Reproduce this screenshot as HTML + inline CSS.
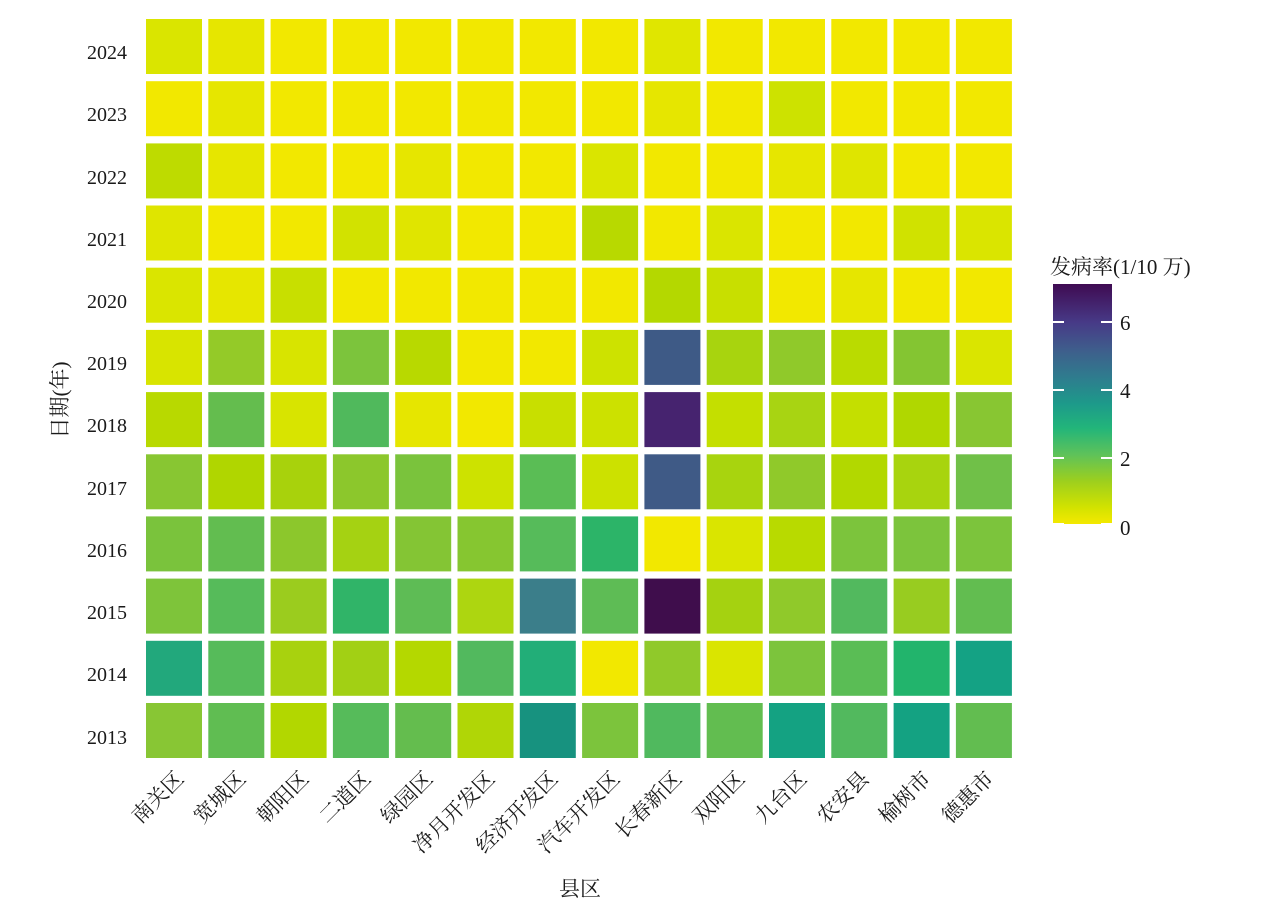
<!DOCTYPE html>
<html><head><meta charset="utf-8"><style>
html,body{margin:0;padding:0;background:#fff;}
svg{display:block;}
text{font-family:"Liberation Serif","Noto Serif CJK SC",serif;fill:#1a1a1a;}
</style></head><body>
<svg width="1269" height="909" viewBox="0 0 1269 909" xmlns="http://www.w3.org/2000/svg">
<defs>
<linearGradient id="vir" x1="0" y1="1" x2="0" y2="0">
<stop offset="0" stop-color="#f4e900"/>
<stop offset="0.07" stop-color="#d2e200"/>
<stop offset="0.18" stop-color="#9ccf1e"/>
<stop offset="0.29" stop-color="#5ec25a"/>
<stop offset="0.4" stop-color="#22b57a"/>
<stop offset="0.5" stop-color="#1d9a8a"/>
<stop offset="0.6" stop-color="#2d7f8e"/>
<stop offset="0.72" stop-color="#3e5f8c"/>
<stop offset="0.84" stop-color="#473a87"/>
<stop offset="1" stop-color="#3f0b52"/>
</linearGradient>
</defs>
<g font-size="20" text-anchor="end">
<text x="127" y="59">2024</text>
<text x="127" y="121">2023</text>
<text x="127" y="184">2022</text>
<text x="127" y="246">2021</text>
<text x="127" y="308">2020</text>
<text x="127" y="370">2019</text>
<text x="127" y="432">2018</text>
<text x="127" y="495">2017</text>
<text x="127" y="557">2016</text>
<text x="127" y="619">2015</text>
<text x="127" y="681">2014</text>
<text x="127" y="744">2013</text>
</g>
<text x="0" y="0" font-size="21" text-anchor="middle" transform="translate(67,400) rotate(-90)">日期(年)</text>
<text x="580" y="896" font-size="21" text-anchor="middle">县区</text>
<g font-size="21" text-anchor="end">
<text transform="translate(185,780) rotate(-45)">南关区</text>
<text transform="translate(247,780) rotate(-45)">宽城区</text>
<text transform="translate(310,780) rotate(-45)">朝阳区</text>
<text transform="translate(372,780) rotate(-45)">二道区</text>
<text transform="translate(434,780) rotate(-45)">绿园区</text>
<text transform="translate(496,780) rotate(-45)">净月开发区</text>
<text transform="translate(559,780) rotate(-45)">经济开发区</text>
<text transform="translate(621,780) rotate(-45)">汽车开发区</text>
<text transform="translate(683,780) rotate(-45)">长春新区</text>
<text transform="translate(746,780) rotate(-45)">双阳区</text>
<text transform="translate(808,780) rotate(-45)">九台区</text>
<text transform="translate(870,780) rotate(-45)">农安县</text>
<text transform="translate(932,780) rotate(-45)">榆树市</text>
<text transform="translate(995,780) rotate(-45)">德惠市</text>
</g>
<text x="1050" y="274" font-size="21">发病率(1/10 万)</text>
<rect x="1053" y="284" width="59" height="240" fill="url(#vir)"/>
<g stroke="#fff" stroke-width="2">
<line x1="1053" y1="322" x2="1064" y2="322"/><line x1="1101" y1="322" x2="1112" y2="322"/>
<line x1="1053" y1="390" x2="1064" y2="390"/><line x1="1101" y1="390" x2="1112" y2="390"/>
<line x1="1053" y1="458" x2="1064" y2="458"/><line x1="1101" y1="458" x2="1112" y2="458"/>
<line x1="1053" y1="524" x2="1064" y2="524"/><line x1="1101" y1="524" x2="1112" y2="524"/>
</g>
<g font-size="21">
<text x="1120" y="330">6</text>
<text x="1120" y="398">4</text>
<text x="1120" y="466">2</text>
<text x="1120" y="535">0</text>
</g>
<g>
<g transform="translate(0,19)">
<rect x="146" width="56" height="55" fill="#dae500"/><rect x="208.3" width="56" height="55" fill="#e6e600"/><rect x="270.6" width="56" height="55" fill="#f2e800"/><rect x="332.9" width="56" height="55" fill="#f2e800"/><rect x="395.2" width="56" height="55" fill="#f2e800"/><rect x="457.5" width="56" height="55" fill="#f2e800"/><rect x="519.8" width="56" height="55" fill="#f2e800"/><rect x="582.1" width="56" height="55" fill="#f2e800"/><rect x="644.4" width="56" height="55" fill="#e0e600"/><rect x="706.7" width="56" height="55" fill="#f2e800"/><rect x="769" width="56" height="55" fill="#f2e800"/><rect x="831.3" width="56" height="55" fill="#f2e800"/><rect x="893.6" width="56" height="55" fill="#f2e800"/><rect x="955.9" width="56" height="55" fill="#f2e800"/>
</g>
<g transform="translate(0,81.2)">
<rect x="146" width="56" height="55" fill="#f2e800"/><rect x="208.3" width="56" height="55" fill="#e6e600"/><rect x="270.6" width="56" height="55" fill="#f2e800"/><rect x="332.9" width="56" height="55" fill="#f2e800"/><rect x="395.2" width="56" height="55" fill="#f2e800"/><rect x="457.5" width="56" height="55" fill="#f2e800"/><rect x="519.8" width="56" height="55" fill="#f2e800"/><rect x="582.1" width="56" height="55" fill="#f2e800"/><rect x="644.4" width="56" height="55" fill="#e6e600"/><rect x="706.7" width="56" height="55" fill="#f2e800"/><rect x="769" width="56" height="55" fill="#cde200"/><rect x="831.3" width="56" height="55" fill="#f2e800"/><rect x="893.6" width="56" height="55" fill="#f2e800"/><rect x="955.9" width="56" height="55" fill="#f2e800"/>
</g>
<g transform="translate(0,143.4)">
<rect x="146" width="56" height="55" fill="#bedb00"/><rect x="208.3" width="56" height="55" fill="#e6e600"/><rect x="270.6" width="56" height="55" fill="#f2e800"/><rect x="332.9" width="56" height="55" fill="#f2e800"/><rect x="395.2" width="56" height="55" fill="#e6e600"/><rect x="457.5" width="56" height="55" fill="#f2e800"/><rect x="519.8" width="56" height="55" fill="#f2e800"/><rect x="582.1" width="56" height="55" fill="#dae500"/><rect x="644.4" width="56" height="55" fill="#f2e800"/><rect x="706.7" width="56" height="55" fill="#f2e800"/><rect x="769" width="56" height="55" fill="#e6e600"/><rect x="831.3" width="56" height="55" fill="#dfe500"/><rect x="893.6" width="56" height="55" fill="#f2e800"/><rect x="955.9" width="56" height="55" fill="#f2e800"/>
</g>
<g transform="translate(0,205.5)">
<rect x="146" width="56" height="55" fill="#dfe500"/><rect x="208.3" width="56" height="55" fill="#f2e800"/><rect x="270.6" width="56" height="55" fill="#f2e800"/><rect x="332.9" width="56" height="55" fill="#d2e200"/><rect x="395.2" width="56" height="55" fill="#e0e500"/><rect x="457.5" width="56" height="55" fill="#f2e800"/><rect x="519.8" width="56" height="55" fill="#f2e800"/><rect x="582.1" width="56" height="55" fill="#b8d900"/><rect x="644.4" width="56" height="55" fill="#f2e800"/><rect x="706.7" width="56" height="55" fill="#dae500"/><rect x="769" width="56" height="55" fill="#f2e800"/><rect x="831.3" width="56" height="55" fill="#f2e800"/><rect x="893.6" width="56" height="55" fill="#d0e200"/><rect x="955.9" width="56" height="55" fill="#dae500"/>
</g>
<g transform="translate(0,267.7)">
<rect x="146" width="56" height="55" fill="#dae500"/><rect x="208.3" width="56" height="55" fill="#e6e600"/><rect x="270.6" width="56" height="55" fill="#c8df00"/><rect x="332.9" width="56" height="55" fill="#f2e800"/><rect x="395.2" width="56" height="55" fill="#f2e800"/><rect x="457.5" width="56" height="55" fill="#f2e800"/><rect x="519.8" width="56" height="55" fill="#f2e800"/><rect x="582.1" width="56" height="55" fill="#f2e800"/><rect x="644.4" width="56" height="55" fill="#b4d800"/><rect x="706.7" width="56" height="55" fill="#c8df00"/><rect x="769" width="56" height="55" fill="#f2e800"/><rect x="831.3" width="56" height="55" fill="#e6e600"/><rect x="893.6" width="56" height="55" fill="#f2e800"/><rect x="955.9" width="56" height="55" fill="#f2e800"/>
</g>
<g transform="translate(0,329.9)">
<rect x="146" width="56" height="55" fill="#d8e400"/><rect x="208.3" width="56" height="55" fill="#94ca28"/><rect x="270.6" width="56" height="55" fill="#d8e400"/><rect x="332.9" width="56" height="55" fill="#7cc43c"/><rect x="395.2" width="56" height="55" fill="#b8d900"/><rect x="457.5" width="56" height="55" fill="#f2e800"/><rect x="519.8" width="56" height="55" fill="#f2e800"/><rect x="582.1" width="56" height="55" fill="#cde200"/><rect x="644.4" width="56" height="55" fill="#3e5a86"/><rect x="706.7" width="56" height="55" fill="#a8d40e"/><rect x="769" width="56" height="55" fill="#90c92a"/><rect x="831.3" width="56" height="55" fill="#badb00"/><rect x="893.6" width="56" height="55" fill="#84c532"/><rect x="955.9" width="56" height="55" fill="#dae500"/>
</g>
<g transform="translate(0,392.1)">
<rect x="146" width="56" height="55" fill="#b8d900"/><rect x="208.3" width="56" height="55" fill="#64bd4e"/><rect x="270.6" width="56" height="55" fill="#d8e400"/><rect x="332.9" width="56" height="55" fill="#50b95c"/><rect x="395.2" width="56" height="55" fill="#e6e600"/><rect x="457.5" width="56" height="55" fill="#f2e800"/><rect x="519.8" width="56" height="55" fill="#c8df00"/><rect x="582.1" width="56" height="55" fill="#cce100"/><rect x="644.4" width="56" height="55" fill="#46236f"/><rect x="706.7" width="56" height="55" fill="#c4df00"/><rect x="769" width="56" height="55" fill="#a8d412"/><rect x="831.3" width="56" height="55" fill="#c4df00"/><rect x="893.6" width="56" height="55" fill="#b0d700"/><rect x="955.9" width="56" height="55" fill="#88c632"/>
</g>
<g transform="translate(0,454.3)">
<rect x="146" width="56" height="55" fill="#88c632"/><rect x="208.3" width="56" height="55" fill="#b0d600"/><rect x="270.6" width="56" height="55" fill="#a8d20c"/><rect x="332.9" width="56" height="55" fill="#8cc72c"/><rect x="395.2" width="56" height="55" fill="#7ac33c"/><rect x="457.5" width="56" height="55" fill="#cde200"/><rect x="519.8" width="56" height="55" fill="#5abd55"/><rect x="582.1" width="56" height="55" fill="#cce100"/><rect x="644.4" width="56" height="55" fill="#3f5a86"/><rect x="706.7" width="56" height="55" fill="#a8d40e"/><rect x="769" width="56" height="55" fill="#90c92a"/><rect x="831.3" width="56" height="55" fill="#b2d800"/><rect x="893.6" width="56" height="55" fill="#a8d40e"/><rect x="955.9" width="56" height="55" fill="#70c048"/>
</g>
<g transform="translate(0,516.4)">
<rect x="146" width="56" height="55" fill="#7ac33c"/><rect x="208.3" width="56" height="55" fill="#62bd50"/><rect x="270.6" width="56" height="55" fill="#8cc72c"/><rect x="332.9" width="56" height="55" fill="#a5d212"/><rect x="395.2" width="56" height="55" fill="#84c534"/><rect x="457.5" width="56" height="55" fill="#86c630"/><rect x="519.8" width="56" height="55" fill="#56bb5a"/><rect x="582.1" width="56" height="55" fill="#2cb468"/><rect x="644.4" width="56" height="55" fill="#f2e800"/><rect x="706.7" width="56" height="55" fill="#dae500"/><rect x="769" width="56" height="55" fill="#b8da00"/><rect x="831.3" width="56" height="55" fill="#7cc43c"/><rect x="893.6" width="56" height="55" fill="#7cc43c"/><rect x="955.9" width="56" height="55" fill="#7cc43c"/>
</g>
<g transform="translate(0,578.6)">
<rect x="146" width="56" height="55" fill="#7ec43a"/><rect x="208.3" width="56" height="55" fill="#56bb5a"/><rect x="270.6" width="56" height="55" fill="#9bcc1e"/><rect x="332.9" width="56" height="55" fill="#30b468"/><rect x="395.2" width="56" height="55" fill="#5ebc55"/><rect x="457.5" width="56" height="55" fill="#add610"/><rect x="519.8" width="56" height="55" fill="#3b7e8a"/><rect x="582.1" width="56" height="55" fill="#5ebc55"/><rect x="644.4" width="56" height="55" fill="#3f0d4c"/><rect x="706.7" width="56" height="55" fill="#a5d210"/><rect x="769" width="56" height="55" fill="#90c92a"/><rect x="831.3" width="56" height="55" fill="#52b95e"/><rect x="893.6" width="56" height="55" fill="#98cc20"/><rect x="955.9" width="56" height="55" fill="#62bd50"/>
</g>
<g transform="translate(0,640.8)">
<rect x="146" width="56" height="55" fill="#22a87c"/><rect x="208.3" width="56" height="55" fill="#56bb5a"/><rect x="270.6" width="56" height="55" fill="#a8d20e"/><rect x="332.9" width="56" height="55" fill="#a2d014"/><rect x="395.2" width="56" height="55" fill="#b4d800"/><rect x="457.5" width="56" height="55" fill="#52b95e"/><rect x="519.8" width="56" height="55" fill="#22ae78"/><rect x="582.1" width="56" height="55" fill="#f2e800"/><rect x="644.4" width="56" height="55" fill="#90c92a"/><rect x="706.7" width="56" height="55" fill="#dae500"/><rect x="769" width="56" height="55" fill="#7cc43c"/><rect x="831.3" width="56" height="55" fill="#5abd55"/><rect x="893.6" width="56" height="55" fill="#22b46c"/><rect x="955.9" width="56" height="55" fill="#14a284"/>
</g>
<g transform="translate(0,703)">
<rect x="146" width="56" height="55" fill="#88c634"/><rect x="208.3" width="56" height="55" fill="#60bd52"/><rect x="270.6" width="56" height="55" fill="#b2d700"/><rect x="332.9" width="56" height="55" fill="#56bb5a"/><rect x="395.2" width="56" height="55" fill="#64bd4e"/><rect x="457.5" width="56" height="55" fill="#b0d606"/><rect x="519.8" width="56" height="55" fill="#17927f"/><rect x="582.1" width="56" height="55" fill="#7cc43c"/><rect x="644.4" width="56" height="55" fill="#50b95e"/><rect x="706.7" width="56" height="55" fill="#62bd50"/><rect x="769" width="56" height="55" fill="#14a282"/><rect x="831.3" width="56" height="55" fill="#52b95e"/><rect x="893.6" width="56" height="55" fill="#14a282"/><rect x="955.9" width="56" height="55" fill="#62bd50"/>
</g>
</g>
</svg>
</body></html>
